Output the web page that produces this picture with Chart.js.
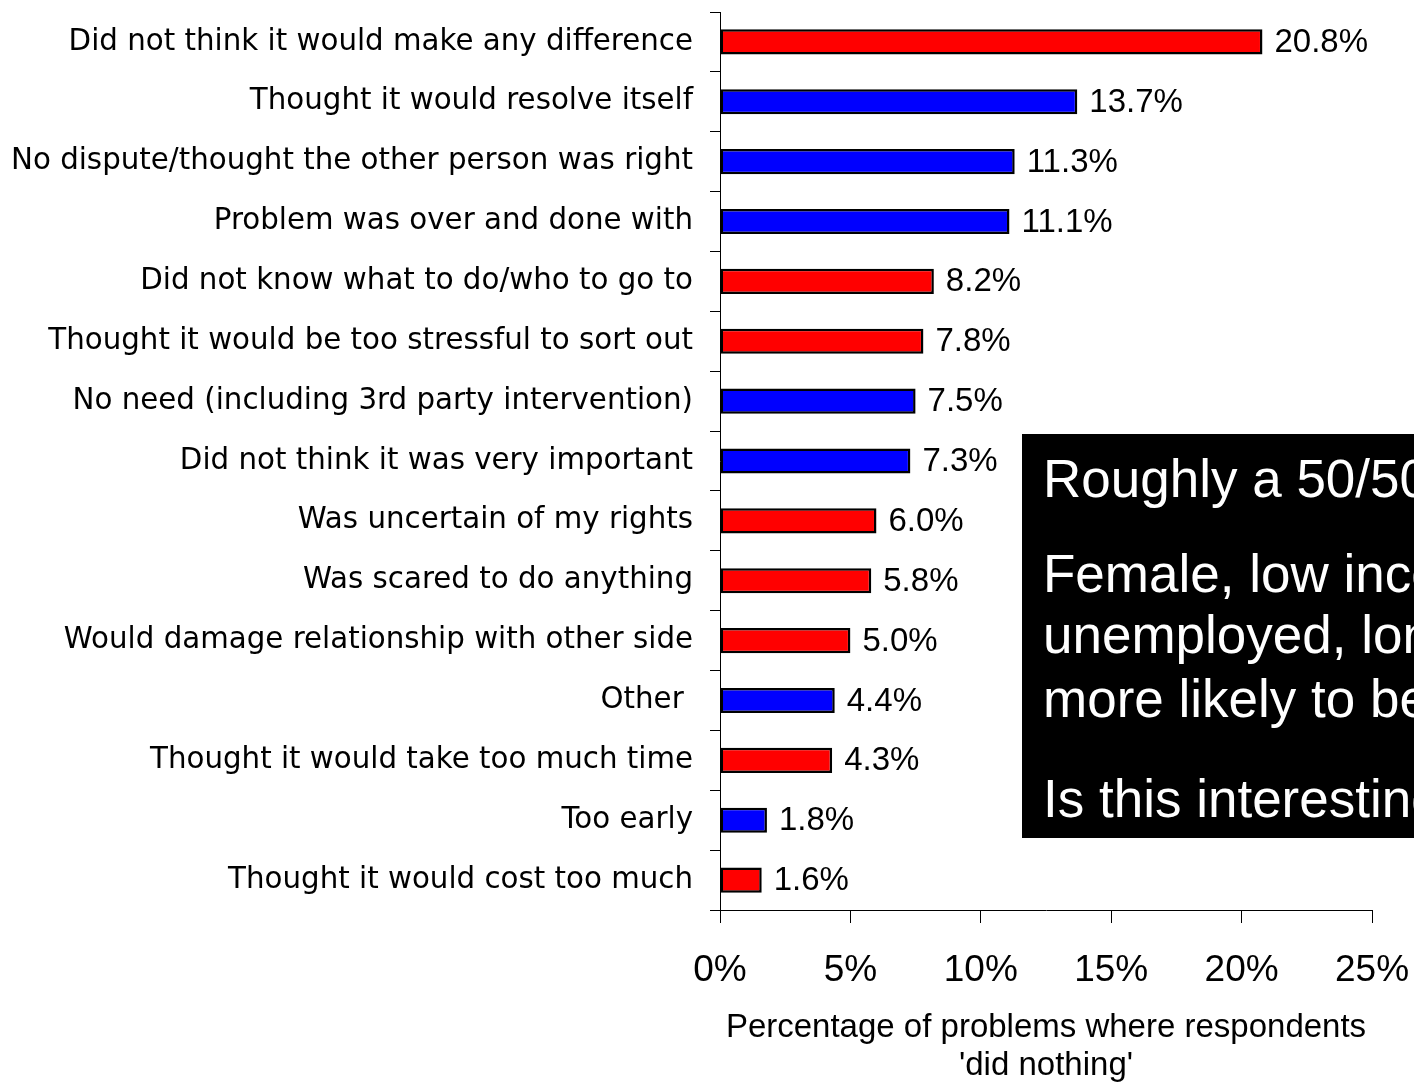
<!DOCTYPE html>
<html>
<head>
<meta charset="utf-8">
<title>Razones para no hacer nada</title>
<script src="https://cdn.jsdelivr.net/npm/chart.js@4/dist/chart.umd.min.js"></script>
<style>
    html, body { margin: 0; padding: 0; background: #ffffff; }
    #wrap { width: 1414px; height: 1085px; }
</style>
</head>
<body>
<div id="wrap"><canvas id="razonesChart" width="1414" height="1085"></canvas></div>
<script>
// Datos del gráfico
const razones = [
    'Did not think it would make any difference',
    'Thought it would resolve itself',
    'No dispute/thought the other person was right',
    'Problem was over and done with',
    'Did not know what to do/who to go to',
    'Thought it would be too stressful to sort out',
    'No need (including 3rd party intervention)',
    'Did not think it was very important',
    'Was uncertain of my rights',
    'Was scared to do anything',
    'Would damage relationship with other side',
    'Other ',
    'Thought it would take too much time',
    'Too early',
    'Thought it would cost too much'
];
const porcentajes = [20.8, 13.7, 11.3, 11.1, 8.2, 7.8, 7.5, 7.3, 6.0, 5.8, 5.0, 4.4, 4.3, 1.8, 1.6];
// r = rojo, b = azul
const grupos = ['r', 'b', 'b', 'b', 'r', 'r', 'b', 'b', 'r', 'r', 'r', 'b', 'r', 'b', 'r'];
const ticksX = [0, 5, 10, 15, 20, 25];
const tituloX = ["Percentage of problems where respondents", "'did nothing'"];
const notas = [
    'Roughly a 50/50 split',
    'Female, low income,',
    'unemployed, lone parents',
    'more likely to be inactive',
    'Is this interesting?'
];

const colores = { r: '#ff0000', b: '#0000ff' };

// Etiquetas de valor al final de cada barra
const etiquetasValor = {
    id: 'etiquetasValor',
    afterDatasetsDraw(chart) {
        const ctx = chart.ctx;
        const meta = chart.getDatasetMeta(0);
        ctx.save();
        ctx.font = '33px "Liberation Sans", Arial, sans-serif';
        ctx.fillStyle = '#000000';
        ctx.textAlign = 'left';
        ctx.textBaseline = 'middle';
        meta.data.forEach((bar, i) => {
            ctx.fillText(porcentajes[i].toFixed(1) + '%', bar.x + 12, bar.y + 1);
        });
        ctx.restore();
    }
};

// Recuadro negro con comentarios
const recuadro = {
    id: 'recuadro',
    afterDraw(chart) {
        const ctx = chart.ctx;
        ctx.save();
        ctx.fillStyle = '#000000';
        ctx.fillRect(1022, 434, 420, 404);
        ctx.fillStyle = '#ffffff';
        ctx.font = '53px "Liberation Sans", Arial, sans-serif';
        ctx.textAlign = 'left';
        ctx.textBaseline = 'alphabetic';
        const lineas = [497, 592, 653, 717, 817];
        notas.forEach((t, i) => ctx.fillText(t, 1043, lineas[i]));
        ctx.restore();
    }
};

const ctx = document.getElementById('razonesChart').getContext('2d');

new Chart(ctx, {
    type: 'bar',
    data: {
        labels: razones,
        datasets: [{
            data: porcentajes,
            backgroundColor: grupos.map(g => colores[g]),
            borderColor: '#000000',
            borderWidth: 2.5,
            borderSkipped: false,
            categoryPercentage: 1,
            barPercentage: 0.42
        }]
    },
    options: {
        indexAxis: 'y',
        responsive: false,
        animation: false,
        devicePixelRatio: 1,
        layout: {
            padding: { top: 12, right: 42, left: 0, bottom: 0 }
        },
        plugins: {
            legend: { display: false },
            tooltip: { enabled: false }
        },
        scales: {
            x: {
                min: 0,
                max: 25,
                afterBuildTicks(scale) {
                    scale.ticks = ticksX.map(v => ({ value: v }));
                },
                afterFit(scale) {
                    scale.height = 175;
                    scale.paddingLeft = 0;
                    scale.paddingRight = 0;
                },
                grid: {
                    drawOnChartArea: false,
                    color: '#000000',
                    tickLength: 13,
                    lineWidth: 1
                },
                border: { color: '#000000', width: 1 },
                ticks: {
                    color: '#000000',
                    padding: 26,
                    maxRotation: 0,
                    font: { family: '"Liberation Sans", Arial, sans-serif', size: 37 },
                    callback: v => v + '%'
                },
                title: {
                    display: true,
                    text: tituloX,
                    color: '#000000',
                    padding: { top: 0, bottom: 0 },
                    font: { family: '"Liberation Sans", Arial, sans-serif', size: 33, lineHeight: 1.16 }
                }
            },
            y: {
                afterFit(scale) {
                    scale.width = 720;
                    scale.paddingTop = 0;
                    scale.paddingBottom = 0;
                },
                grid: {
                    drawOnChartArea: false,
                    offset: true,
                    color: '#000000',
                    tickLength: 10,
                    lineWidth: 1
                },
                border: { color: '#000000', width: 1 },
                ticks: {
                    color: '#000000',
                    padding: 17,
                    autoSkip: false,
                    font: { family: '"DejaVu Sans", sans-serif', size: 29.3 }
                }
            }
        }
    },
    plugins: [etiquetasValor, recuadro]
});
</script>
</body>
</html>
